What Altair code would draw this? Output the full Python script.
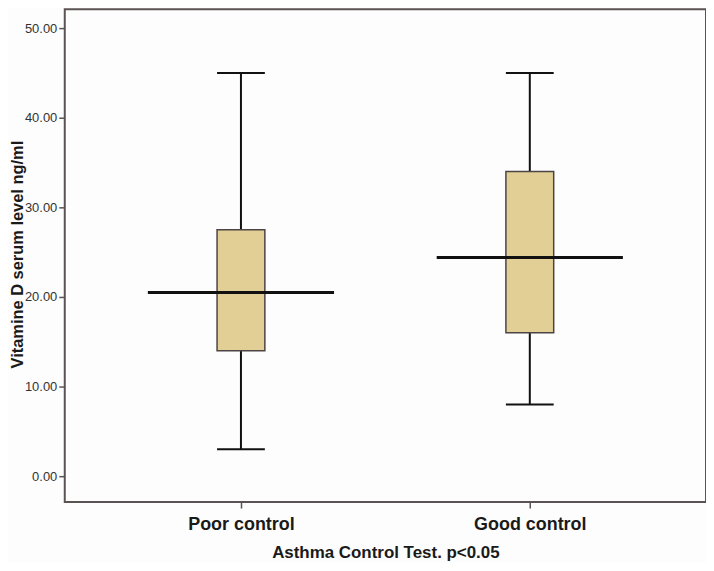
import altair as alt
import pandas as pd

groups = ["Poor control", "Good control"]
mins = [3.0, 8.0]
q1 = [14.0, 16.0]
medians = [20.5, 24.4]
q3 = [27.5, 34.0]
maxs = [45.0, 45.0]

df = pd.DataFrame({"group": groups, "min": mins, "q1": q1, "median": medians,
                   "q3": q3, "max": maxs})

W, H = 644, 495
FRAME = "#5b5353"

x = alt.X("group:N", sort=groups,
          scale=alt.Scale(type="point", padding=0.61),
          axis=alt.Axis(title="Asthma Control Test. p<0.05", labelAngle=0,
                        labelFontSize=18, labelColor="#1a1a1a", labelPadding=8,
                        labelFont="Liberation Sans", labelFontWeight="bold",
                        tickColor=FRAME, tickSize=6, tickWidth=1.5, domain=False,
                        titleFont="Liberation Sans", titleFontSize=17,
                        titleFontWeight="bold", titleColor="#1a1a1a",
                        titleBaseline="middle", titleY=51))

yscale = alt.Scale(domain=[-2.89, 52.11], nice=False, zero=False)
yaxis = alt.Axis(title="Vitamine D serum level ng/ml", values=[0, 10, 20, 30, 40, 50],
                 format=".2f", labelFontSize=13, labelColor="#333333",
                 labelFont="Liberation Sans", labelPadding=2,
                 tickColor=FRAME, tickSize=6, tickWidth=1.5, domain=False, grid=False,
                 titleFont="Liberation Sans", titleFontSize=16.5, titleFontWeight="bold",
                 titleColor="#1a1a1a", titleAngle=270, titleBaseline="middle",
                 titleAlign="center", titleX=-47, titleY=246)

base = alt.Chart(df)

whisker = base.mark_rule(color="#111111", strokeWidth=2).encode(
    x=x, y=alt.Y("min:Q", scale=yscale, axis=yaxis), y2="max:Q")

box = base.mark_bar(size=48, fill="#e1cf95", stroke="#4d4545", strokeWidth=1.5).encode(
    x=x, y=alt.Y("q1:Q", scale=yscale, axis=yaxis), y2="q3:Q")

caps_low = base.mark_tick(size=48, thickness=2, color="#111111", opacity=1).encode(
    x=x, y=alt.Y("min:Q", scale=yscale, axis=yaxis))
caps_high = base.mark_tick(size=48, thickness=2, color="#111111", opacity=1).encode(
    x=x, y=alt.Y("max:Q", scale=yscale, axis=yaxis))
median = base.mark_tick(size=187, thickness=3, color="#111111", opacity=1).encode(
    x=x, y=alt.Y("median:Q", scale=yscale, axis=yaxis))

chart = alt.layer(whisker, box, caps_low, caps_high, median).properties(
    width=W, height=H,
    autosize=alt.AutoSizeParams(type="none"),
    padding={"left": 57, "top": 0, "right": 0, "bottom": 60},
    background="#fdfdfd",
).configure_view(stroke=FRAME, strokeWidth=2, fill="#fdfdfd")

chart.save("out.html", embed_options={"renderer": "svg", "actions": False})
